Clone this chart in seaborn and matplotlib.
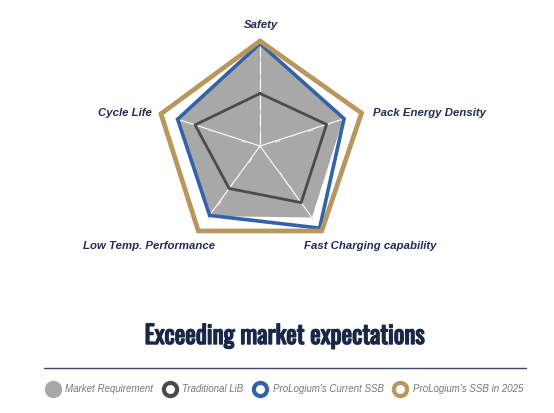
import numpy as np
import matplotlib
matplotlib.use("Agg")
import matplotlib.pyplot as plt
import matplotlib.patheffects as pe
from matplotlib.lines import Line2D
from matplotlib import font_manager
import seaborn as sns

categories = ["Safety", "Pack Energy Density", "Fast Charging capability",
              "Low Temp. Performance", "Cycle Life"]
market_req = [5.85, 5.0, 5.05, 4.95, 4.95]
traditional_lib = [3.0, 4.0, 4.0, 3.0, 3.9]
current_ssb = [5.85, 5.05, 5.8, 4.9, 4.95]
ssb_2025 = [6.0, 6.1, 6.0, 6.0, 5.95]
series_names = ["Market Requirement", "Traditional LiB",
                "ProLogium's Current SSB", "ProLogium's SSB in 2025"]

sns.set_theme(style="white")
plt.rcParams["font.family"] = ["Liberation Sans", "DejaVu Sans"]

navy = "#1f2d55"
gray_fill = "#a8a8a8"
dark = "#4b4b4b"
blue = "#3262a8"
gold = "#b8975f"

W, H = 554, 413
fig = plt.figure(figsize=(W / 100, H / 100), dpi=100)
fig.patch.set_facecolor("white")

cx, cy, R = 260, 146, 105
ax = fig.add_axes([(cx - R) / W, (H - cy - R) / H, 2 * R / W, 2 * R / H],
                  projection="polar")
ax.set_theta_offset(np.pi / 2)
ax.set_theta_direction(-1)
ax.set_ylim(0, 6)
ax.axis("off")

n = len(categories)
angles = np.linspace(0, 2 * np.pi, n, endpoint=False)
ang_c = np.append(angles, angles[0])


def closed(v):
    return np.append(v, v[0])


ax.fill(ang_c, closed(market_req), color=gray_fill, lw=0, zorder=1)

# spokes with small tick marks
for a in angles:
    ax.plot([a, a], [0, 6], color="white", lw=0.8, zorder=2, clip_on=False)
    rot = -np.degrees(a)
    ax.plot([a] * 5, [1, 2, 3, 4, 5], ls="none", marker=(2, 2, rot),
            ms=3.5, mec="#e0e0e0", mew=0.7, zorder=2)

ax.plot(ang_c, closed(traditional_lib), color=dark, lw=2.0, zorder=3,
        clip_on=False)
ax.plot(ang_c, closed(current_ssb), color=blue, lw=2.6, zorder=4,
        clip_on=False, solid_joinstyle="miter")
ax.plot(ang_c, closed(ssb_2025), color=gold, lw=3.4, zorder=5,
        clip_on=False, solid_joinstyle="miter")

# axis labels
lab_kw = dict(fontsize=8.2, fontweight="bold", fontstyle="italic", color=navy,
              va="center")
fig.text(261 / W, 1 - 25 / H, categories[0], ha="center", **lab_kw)
fig.text(373 / W, 1 - 113 / H, categories[1], ha="left", **lab_kw)
fig.text(370 / W, 1 - 246 / H, categories[2], ha="center", **lab_kw)
fig.text(149 / W, 1 - 246 / H, categories[3], ha="center", **lab_kw)
fig.text(152 / W, 1 - 113 / H, categories[4], ha="right", **lab_kw)

# title: prefer a condensed face if one is installed
installed = {f.name for f in font_manager.fontManager.ttflist}
title_font, title_size, stroke = "Liberation Sans", 15, 0
for name in ["Oswald", "Roboto Condensed", "Liberation Sans Narrow",
             "Open Sans Condensed", "DejaVu Sans Condensed"]:
    if name in installed:
        title_font, title_size, stroke = name, 18, 1.0
        break
title_color = "#1a2847"
fig.text(285 / W, 1 - 336 / H, "Exceeding market expectations",
         ha="center", va="center", fontsize=title_size, fontweight="bold",
         color=title_color, family=[title_font, "DejaVu Sans"],
         path_effects=[pe.withStroke(linewidth=stroke, foreground=title_color)])
fig.add_artist(Line2D([44 / W, 526 / W], [1 - 368 / H, 1 - 368 / H],
                      transform=fig.transFigure, color="#3c4a6b", lw=1))

# legend
handles = [
    Line2D([], [], ls="none", marker="o", ms=11.5, mfc=gray_fill, mec=gray_fill),
    Line2D([], [], ls="none", marker="o", ms=9.5, mfc="white", mec=dark, mew=3),
    Line2D([], [], ls="none", marker="o", ms=9.5, mfc="white", mec=blue, mew=3),
    Line2D([], [], ls="none", marker="o", ms=9.5, mfc="white", mec=gold, mew=3),
]
leg = fig.legend(handles, series_names, loc="center", ncol=4,
                 bbox_to_anchor=(285 / W, 1 - 389 / H), frameon=False,
                 handletextpad=0.7, columnspacing=1.1, handlelength=1.2,
                 prop=dict(size=7, style="italic"))
for t in leg.get_texts():
    t.set_color("#777777")

fig.savefig("out.png", dpi=100, facecolor="white")
